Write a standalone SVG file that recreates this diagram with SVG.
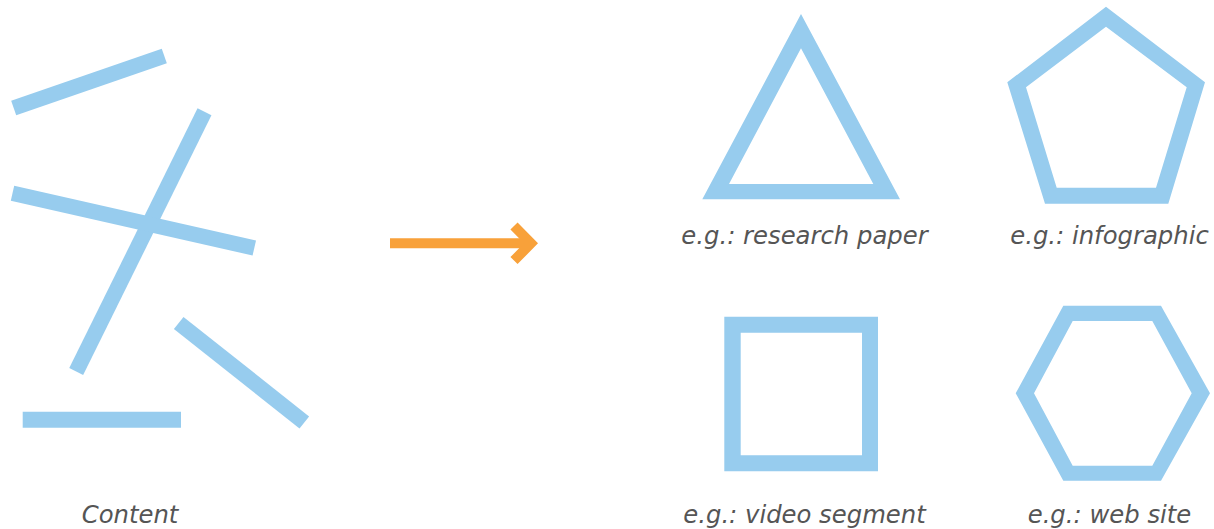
<svg xmlns="http://www.w3.org/2000/svg" width="1214" height="529" viewBox="0 0 1214 529">
  <style>
    .bar { stroke: #97CCEE; stroke-width: 15.5; stroke-linecap: butt; fill: none; }
    .shape { fill: #97CCEE; fill-rule: evenodd; }
    .arrow { stroke: #F8A13A; stroke-width: 10; fill: none; stroke-linejoin: miter; stroke-linecap: butt; }
    .label { font-family: "DejaVu Sans", Verdana, sans-serif; font-style: italic; font-size: 24.3px; fill: #555555; text-anchor: middle; }
  </style>
  <rect width="1214" height="529" fill="#ffffff"/>
  <g id="content">
    <line class="bar" x1="13.7" y1="108" x2="164.3" y2="56"/>
    <line class="bar" x1="204.5" y1="111.8" x2="76.2" y2="371.5"/>
    <line class="bar" x1="12.5" y1="193.3" x2="254.3" y2="248"/>
    <line class="bar" x1="178.7" y1="323" x2="304.3" y2="422.5"/>
    <line class="bar" x1="22.7" y1="419.7" x2="181" y2="419.7" style="stroke-width:16"/>
    <text class="label" x="130" y="522.5">Content</text>
  </g>
  <g id="connectors">
    <line class="arrow" x1="390" y1="243.3" x2="531" y2="243.3"/>
    <polyline class="arrow" points="514,226 531,243.3 514,260.6"/>
  </g>
  <g id="research-paper">
    <path class="shape" d="M801,14 L702.3,199.3 L900,199.3 Z M801,48.3 L729,184 L873.3,184 Z"/>
    <text class="label" x="804.5" y="243.5">e.g.: research paper</text>
  </g>
  <g id="infographic">
    <path class="shape" d="M1106,6.7 L1007.3,82.3 L1045,203.7 L1168.3,203.7 L1205,82.3 Z M1106,26.7 L1026,87.3 L1056.7,187.7 L1156,187.7 L1186.7,87.3 Z"/>
    <text class="label" x="1109.5" y="243.5">e.g.: infographic</text>
  </g>
  <g id="video-segment">
    <path class="shape" d="M724.3,316.7 H878 V471.3 H724.3 Z M740.7,332.7 V455.3 H862 V332.7 Z"/>
    <text class="label" x="804.5" y="522.5">e.g.: video segment</text>
  </g>
  <g id="web-site">
    <path class="shape" d="M1063.3,305.7 L1161,305.7 L1210,393.3 L1161,480.7 L1063.3,480.7 L1015.7,393.3 Z M1072.7,321 L1034,393.3 L1072.7,465.7 L1152.3,465.7 L1191.7,393.3 L1152.3,321 Z"/>
    <text class="label" x="1109.5" y="522.5">e.g.: web site</text>
  </g>
</svg>
